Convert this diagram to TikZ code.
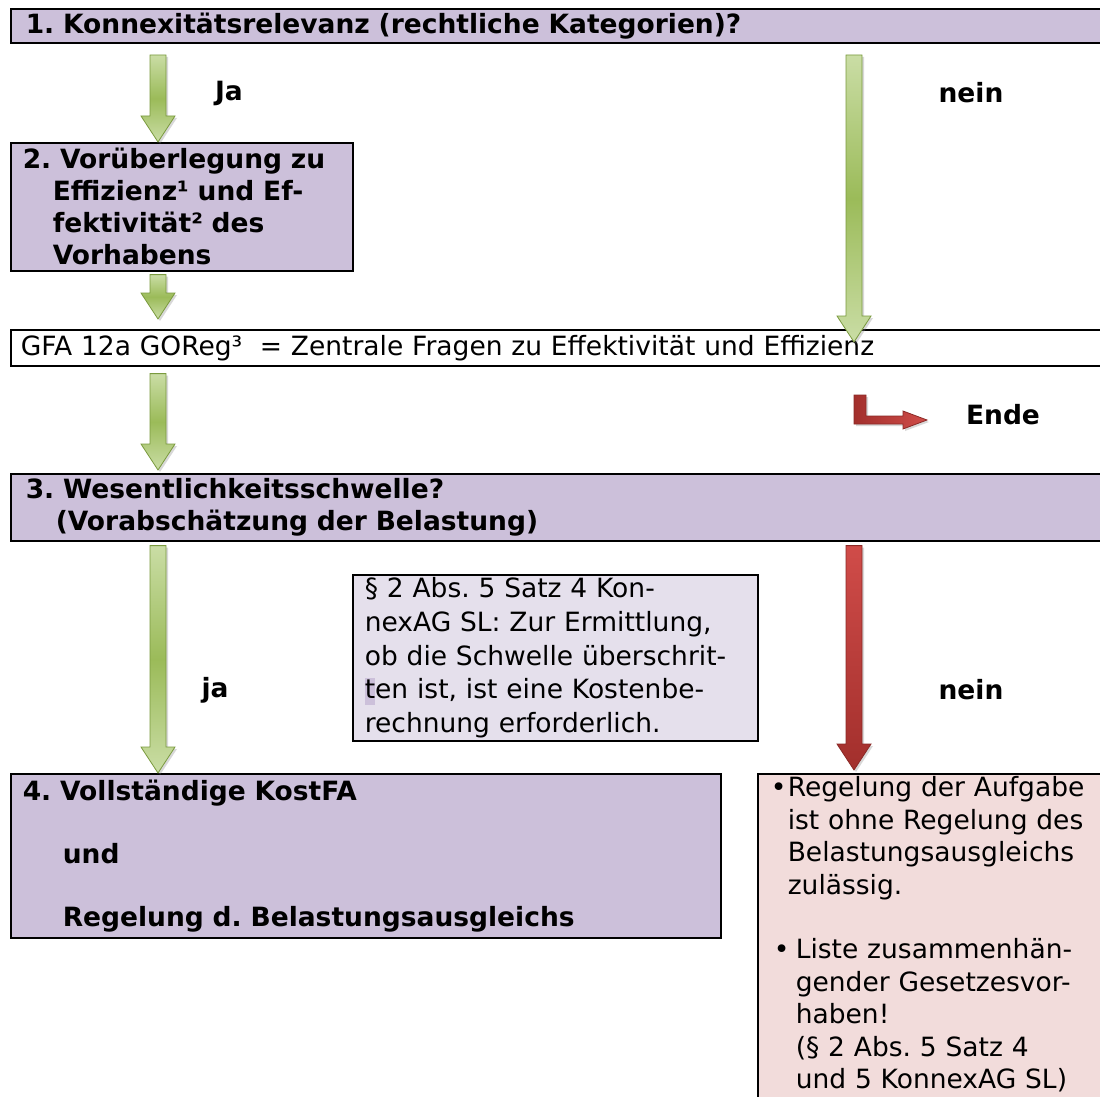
\documentclass[tikz,border=0pt]{standalone}
\usepackage{fontspec}
\setmainfont{DejaVu Sans}
\frenchspacing
\usetikzlibrary{calc,shadows}
\definecolor{lav}{HTML}{CCC0DA}
\definecolor{notefill}{HTML}{E5E0EC}
\definecolor{pinkfill}{HTML}{F2DCDB}
\definecolor{glight}{HTML}{CADDA5}
\definecolor{gdark}{HTML}{9BBB59}
\definecolor{gborder}{HTML}{7A9A3E}
\definecolor{rlight}{HTML}{D04C49}
\definecolor{rdark}{HTML}{A22F2C}
\definecolor{rborder}{HTML}{8A2926}
\newcommand\blockarrow[3]{\path[#1] ($(#2)+(-8,0)$) -- ($(#3)+(-8,-26)$) -- ($(#3)+(-17,-26)$) -- (#3) -- ($(#3)+(17,-26)$) -- ($(#3)+(8,-26)$) -- ($(#2)+(8,0)$) -- cycle;}
\begin{document}
\begin{tikzpicture}[x=1pt,y=-1pt,
  box/.style={draw=black, line width=1.6pt, anchor=north west, inner ysep=0pt, align=left},
  bfont/.style={font=\fontsize{26.5}{32}\selectfont\bfseries},
  nfont/.style={font=\fontsize{26.5}{32}\selectfont},
  garrow/.style={draw=gborder, line width=0.8pt, top color=glight, bottom color=glight, middle color=gdark,
    drop shadow={opacity=0.3, shadow xshift=2pt, shadow yshift=-2pt}},
  rarrow/.style={draw=rborder, line width=0.8pt, top color=rlight, bottom color=rdark,
    drop shadow={opacity=0.3, shadow xshift=2pt, shadow yshift=-2pt}},
  lbl/.style={font=\fontsize{26.5}{30}\selectfont\bfseries, inner sep=0pt}
]
\fill[white] (0,0) rectangle (1100,1097);
\useasboundingbox (0,0) rectangle (1100,1097);

% boxes
\node[box, fill=lav, bfont, minimum width=1100, minimum height=34, text width=1070, inner xsep=13] (b1) at (10,8)
  {1. Konnexitätsrelevanz (rechtliche Kategorien)?};
\node[box, fill=lav, bfont, minimum width=342, minimum height=128, text width=318, inner xsep=12] (b2) at (10,142)
  {2. Vorüberlegung zu\\
   \hspace*{30pt}Effizienz¹ und Ef-\\
   \hspace*{30pt}fektivität² des\\
   \hspace*{30pt}Vorhabens};
\node[box, fill=white, nfont, minimum width=1100, minimum height=36, text width=1080, inner xsep=6] (gfa) at (10,329)
  {GFA 12a GOReg³\ \ = Zentrale Fragen zu Effektivität und Effizienz};
\node[box, fill=lav, bfont, minimum width=1100, minimum height=67, text width=1070, inner xsep=12] (b3) at (10,473)
  {3. Wesentlichkeitsschwelle?\\
   \hspace*{30pt}(Vorabschätzung der Belastung)};
\node[box, fill=notefill, font=\fontsize{26.5}{33.8}\selectfont, minimum width=405, minimum height=166, text width=381, inner xsep=12] (note) at (352,574)
  {§ 2 Abs. 5 Satz 4 Kon-\\
   nexAG SL: Zur Ermittlung,\\
   ob die Schwelle überschrit-\\
   {\fboxsep=0pt\colorbox{lav}{\rule[-6pt]{0pt}{27pt}t}}en ist, ist eine Kostenbe-\\
   rechnung erforderlich.};
\node[box, fill=lav, bfont, minimum width=710, minimum height=164, text width=686, inner xsep=12] (b4) at (10,773)
  {4. Vollständige KostFA\\[31pt]
   \hspace*{40pt}und\\[31pt]
   \hspace*{40pt}Regelung d. Belastungsausgleichs};
\node[box, fill=pinkfill, font=\fontsize{26.5}{32.4}\selectfont, minimum width=360, text width=340, inner xsep=10, inner ysep=3, text depth=320pt] (b5) at (757,773)
  {\hspace*{3pt}\makebox[17pt][l]{•}Regelung der Aufgabe\\
   \hspace*{20pt}ist ohne Regelung des\\
   \hspace*{20pt}Belastungsausgleichs\\
   \hspace*{20pt}zulässig.\\[32.4pt]
   \hspace*{6pt}\makebox[22pt][l]{•}Liste zusammenhän-\\
   \hspace*{28pt}gender Gesetzesvor-\\
   \hspace*{28pt}haben!\\
   \hspace*{28pt}(§ 2 Abs. 5 Satz 4\\
   \hspace*{28pt}und 5 KonnexAG SL)};

% labels
\node[lbl] (lja) at (229,93) {Ja};
\node[lbl] (lnein1) at (971,93) {nein};
\node[lbl] (lende) at (1003,415) {Ende};
\node[lbl] (lja2) at (215,690) {ja};
\node[lbl] (lnein2) at (971,690) {nein};

% columns
\coordinate (colL) at (158,0);
\coordinate (colR) at (854,0);

% arrows
\coordinate (a1s) at (158,55);
\coordinate (a1e) at (colL |- b2.north);
\blockarrow{garrow}{a1s}{a1e}
\coordinate (n1s) at (854,55);
\coordinate (n1e) at ($(colR |- gfa.north)+(0,13)$);
\blockarrow{garrow}{n1s}{n1e}
\coordinate (a2s) at ($(colL |- b2.south)+(0,3)$);
\coordinate (a2e) at ($(colL |- gfa.north)+(0,-10)$);
\blockarrow{garrow}{a2s}{a2e}
\coordinate (a3s) at ($(colL |- gfa.south)+(0,7)$);
\coordinate (a3e) at ($(colL |- b3.north)+(0,-3)$);
\blockarrow{garrow}{a3s}{a3e}
\coordinate (a4s) at ($(colL |- b3.south)+(0,4)$);
\coordinate (a4e) at (colL |- b4.north);
\blockarrow{garrow}{a4s}{a4e}
\coordinate (r1s) at ($(colR |- b3.south)+(0,4)$);
\coordinate (r1e) at ($(colR |- b5.north)+(0,-3)$);
\blockarrow{rarrow}{r1s}{r1e}

% bent "Ende" arrow
\coordinate (ende0) at (854,395);
\path[draw=rborder, line width=0.8pt, left color=rdark, right color=rlight,
      drop shadow={opacity=0.3, shadow xshift=2pt, shadow yshift=-2pt}]
  (ende0) -- ++(12,0) -- ++(0,21) -- ++(37,0) -- ++(0,-5) -- ++(24,9) -- ++(-24,9) -- ++(0,-5) -- ++(-49,0) -- cycle;
\end{tikzpicture}
\end{document}
